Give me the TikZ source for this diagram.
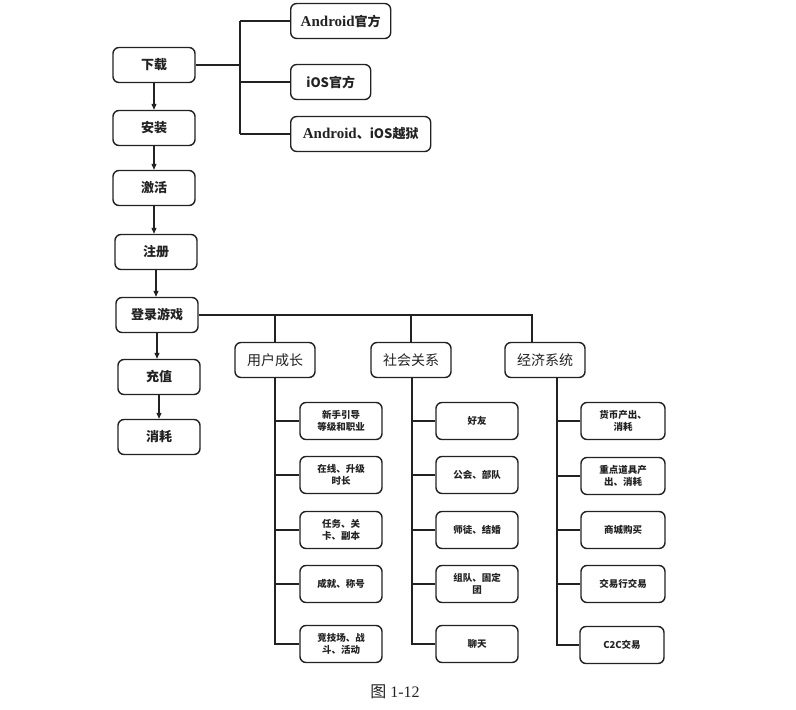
\documentclass[tikz,border=0pt]{standalone}
\usepackage{fontspec}
\setmainfont{Liberation Serif}
\newfontfamily\cjk{Noto Sans CJK SC}
\usetikzlibrary{arrows.meta}
\definecolor{ink}{HTML}{222222}
\newcommand{\lat}[1]{{\rmfamily\bfseries\fontsize{15}{15}\selectfont #1}}
\tikzset{
  bx/.style={draw=ink, line width=1.4pt, rounded corners=6pt, align=center, inner sep=2pt,
    minimum height=35pt, minimum width=82pt, text=ink,
    font=\cjk\bfseries\fontsize{13}{15}\selectfont},
  cat/.style={bx, minimum width=80pt, font=\cjk\fontsize{14}{16}\selectfont},
  sub/.style={bx, minimum height=37pt, minimum width=82pt,
    font=\cjk\bfseries\fontsize{9.5}{11.5}\selectfont},
  conn/.style={draw=ink, line width=1.1pt},
  arr/.style={conn, -{Triangle[length=6pt,width=5pt]}}
}
\begin{document}
\begin{tikzpicture}[x=1pt,y=-1pt]
\useasboundingbox (0,0) rectangle (796,710);
% left column
\node[bx] (dl) at (154,65) {下载};
\node[bx] (az) at (154,128) {安装};
\node[bx] (jh) at (154,188) {激活};
\node[bx] (zc) at (156,252) {注册};
\node[bx] (dr) at (157,315) {登录游戏};
\node[bx] (cz) at (159,377) {充值};
\node[bx] (xh) at (159,437) {消耗};
\draw[arr] (dl.south) -- (dl.south |- az.north);
\draw[arr] (az.south) -- (az.south |- jh.north);
\draw[arr] (jh.south) -- (jh.south |- zc.north);
\draw[arr] (zc.south) -- (zc.south |- dr.north);
\draw[arr] (dr.south) -- (dr.south |- cz.north);
\draw[arr] (cz.south) -- (cz.south |- xh.north);
% download channels
\node[bx, anchor=west, minimum width=100pt] (a1) at (290,21) {\lat{Android}官方};
\node[bx, anchor=west, minimum width=80pt] (a2) at (290,82) {iOS官方};
\node[bx, anchor=west, minimum width=140pt] (a3) at (290,134) {\lat{Android}、iOS越狱};
\coordinate (bus) at (240,65);
\draw[conn] (dl.east) -- (bus);
\draw[conn] (bus |- a1.west) -- (bus |- a3.west);
\draw[conn] (bus |- a1.west) -- (a1.west);
\draw[conn] (bus |- a2.west) -- (a2.west);
\draw[conn] (bus |- a3.west) -- (a3.west);
% categories
\node[cat] (c1) at (275,360) {用户成长};
\node[cat] (c2) at (411,360) {社会关系};
\node[cat] (c3) at (545,360) {经济系统};
\draw[conn] (dr.east) -| ([xshift=-13pt]c3.north);
\draw[conn] (c1.north |- dr.east) -- (c1.north);
\draw[conn] (c2.north |- dr.east) -- (c2.north);
% column 1
\node[sub] (s11) at (341,421) {新手引导\\等级和职业};
\node[sub] (s12) at (341,475) {在线、升级\\时长};
\node[sub] (s13) at (341,530) {任务、关\\卡、副本};
\node[sub] (s14) at (341,584) {成就、称号};
\node[sub] (s15) at (341,644) {竞技场、战\\斗、活动};
% column 2
\node[sub] (s21) at (477,421) {好友};
\node[sub] (s22) at (477,475) {公会、部队};
\node[sub] (s23) at (477,530) {师徒、结婚};
\node[sub] (s24) at (477,584) {组队、固定\\团};
\node[sub] (s25) at (477,644) {聊天};
% column 3
\node[sub, minimum width=84pt] (s31) at (623,421) {货币产出、\\消耗};
\node[sub, minimum width=84pt] (s32) at (623,476) {重点道具产\\出、消耗};
\node[sub, minimum width=84pt] (s33) at (623,530) {商城购买};
\node[sub, minimum width=84pt] (s34) at (623,584) {交易行交易};
\node[sub, minimum width=84pt] (s35) at (622,645) {C2C交易};
% column connectors
\draw[conn] (c1.south) |- (s15.west);
\foreach \s in {s11,s12,s13,s14} \draw[conn] (c1.south |- \s.west) -- (\s.west);
\draw[conn] ([xshift=1pt]c2.south) |- (s25.west);
\foreach \s in {s21,s22,s23,s24} \draw[conn] ([xshift=1pt]c2.south |- \s.west) -- (\s.west);
\draw[conn] ([xshift=12pt]c3.south) |- (s35.west);
\foreach \s in {s31,s32,s33,s34} \draw[conn] ([xshift=12pt]c3.south |- \s.west) -- (\s.west);
% caption
\node[font=\fontsize{16}{18}\selectfont, text=ink] (cap) at (395,692) {{\cjk 图} 1-12};
\end{tikzpicture}
\end{document}
